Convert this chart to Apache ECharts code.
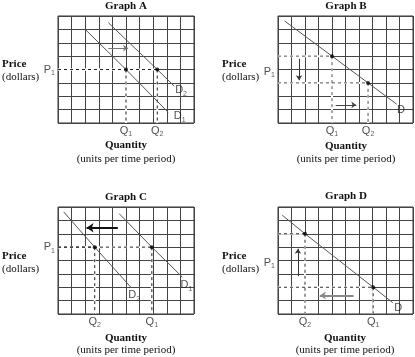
<!DOCTYPE html>
<html><head><meta charset="utf-8">
<script src="https://cdn.jsdelivr.net/npm/echarts@6/dist/echarts.min.js"></script>
<style>html,body{margin:0;padding:0;background:#fff}#c{width:415px;height:357px}</style>
</head><body><div id="c"></div>
<script>
// ---- data ----
const graphTitles = ['Graph A', 'Graph B', 'Graph C', 'Graph D'];
const xTicks = [0, 10];   // quantity axis range (grid units)
const yTicks = [0, 8];    // price axis range (grid units)

// Graph A
const demandA1 = [[2, 7], [5, 4], [8.1, 0.8]];
const demandA2 = [[3.7, 7.5], [7.3, 4], [8.55, 2.75]];
const pointsA = [[5, 4], [7.3, 4]];
const priceLabelA = 4;
const qLabelsA = [['Q', '1', 5], ['Q', '2', 7.3]];
const dLabelsA = [['D', '2', 9.05, 2.45], ['D', '1', 8.95, 0.5]];
const arrowsA = [[[3.7, 5.6], [5.15, 5.6]]];

// Graph B
const demandB = [[0.5, 7.62], [4, 5], [6.67, 3], [8.8, 1.4]];
const pointsB = [[4, 5], [6.67, 3]];
const priceLabelB = 3.85;
const qLabelsB = [['Q', '1', 4], ['Q', '2', 6.67]];
const dLabelsB = [['D', '', 9.1, 0.96]];
const arrowsB = [[[1.56, 4.8], [1.56, 3.2]], [[4.27, 1.35], [5.8, 1.35]]];

// Graph C
const demandC1 = [[4.5, 7.5], [6.9, 5], [9.15, 2.75]];
const demandC2 = [[0.42, 7.63], [2.7, 5], [5.4, 1.95]];
const pointsC = [[2.7, 5], [6.9, 5]];
const priceLabelC = 5;
const qLabelsC = [['Q', '2', 2.7], ['Q', '1', 6.9]];
const dLabelsC = [['D', '1', 9.45, 2.15], ['D', '2', 5.6, 1.4]];
const arrowsC = [[[4.4, 6.45], [2.1, 6.45]]];

// Graph D
const demandD = [[0.32, 7.38], [2, 6], [7.05, 2], [8.5, 0.85]];
const pointsD = [[2, 6], [7.05, 2]];
const priceLabelD = 3.85;
const qLabelsD = [['Q', '2', 2], ['Q', '1', 7.05]];
const dLabelsD = [['D', '', 8.9, 0.45]];
const arrowsD = [[[1.48, 2.83], [1.48, 4.88]], [[5.6, 1.38], [3.1, 1.38]]];

// ---- styles / layout ----
const SANS = 'Liberation Sans, Arial, sans-serif';
const SERIF = 'Liberation Serif, Times New Roman, serif';
const gridBoxes = [
  {left: 58, top: 16, width: 136, height: 107},
  {left: 278, top: 16, width: 135, height: 107},
  {left: 58, top: 207, width: 136, height: 107},
  {left: 278, top: 207, width: 135, height: 107}
];
const richSub = {
  b: {fontSize: 11, fontFamily: SANS, color: '#222', lineHeight: 14},
  s: {fontSize: 7, fontFamily: SANS, color: '#333', lineHeight: 8, verticalAlign: 'bottom'}
};
function sub(m, s) { return s ? '{b|' + m + '}{s|' + s + '}' : '{b|' + m + '}'; }

const graphs = [
  {demand: [demandA1, demandA2], points: pointsA, price: priceLabelA, q: qLabelsA, d: dLabelsA,
   arrows: arrowsA, arrowStyle: [{color: '#777', width: 1, size: 5}], dash: '#222'},
  {demand: [demandB], points: pointsB, price: priceLabelB, q: qLabelsB, d: dLabelsB,
   arrows: arrowsB, arrowStyle: [{color: '#333', width: 1, size: 5}, {color: '#444', width: 1, size: 5}], dash: '#555'},
  {demand: [demandC1, demandC2], points: pointsC, price: priceLabelC, q: qLabelsC, d: dLabelsC,
   arrows: arrowsC, arrowStyle: [{color: '#111', width: 2, size: 7}], dash: '#222'},
  {demand: [demandD], points: pointsD, price: priceLabelD, q: qLabelsD, d: dLabelsD,
   arrows: arrowsD, arrowStyle: [{color: '#333', width: 1, size: 5}, {color: '#888', width: 2, size: 6}], dash: '#333'}
];

const series = [];
graphs.forEach((g, i) => {
  const ax = {xAxisIndex: i, yAxisIndex: i};
  // guide segments from each point to the axes
  const segs = [];
  g.points.forEach(p => {
    segs.push([[0, p[1]], [p[0], p[1]]]);
    segs.push([[p[0], p[1]], [p[0], 0]]);
  });
  segs.forEach(s => {
    series.push(Object.assign({type: 'line', data: s, symbol: 'none', silent: true, z: 2,
      lineStyle: {color: '#fff', width: 2}}, ax));
    series.push(Object.assign({type: 'line', data: s, symbol: 'none', silent: true, z: 3,
      lineStyle: {color: g.dash, width: 1, type: [3, 3]}}, ax));
  });
  // demand curves
  g.demand.forEach((d, k) => {
    const s = Object.assign({type: 'line', data: d, symbol: 'none', silent: true, z: 4,
      lineStyle: {color: '#555', width: 1}}, ax);
    if (k === 0) {
      s.markLine = {
        silent: true, symbol: ['none', 'arrow'], label: {show: false},
        data: g.arrows.map((a, j) => {
          const st = g.arrowStyle[j];
          return [{coord: a[0], symbolSize: 0, lineStyle: {color: st.color, width: st.width, type: 'solid'}},
                  {coord: a[1], symbolSize: st.size}];
        })
      };
    }
    series.push(s);
  });
  // equilibrium points
  series.push(Object.assign({type: 'scatter', data: g.points, symbolSize: 4, silent: true, z: 5,
    itemStyle: {color: '#000'}}, ax));
  // labels
  const labs = [];
  labs.push({value: [0, g.price], label: {position: 'left', distance: 3, formatter: sub('P', '1')}});
  g.q.forEach(q => labs.push({value: [q[2], 0], label: {position: 'bottom', distance: 1, formatter: sub(q[0], q[1])}}));
  g.d.forEach(d => labs.push({value: [d[2], d[3]], label: {position: 'inside', formatter: sub(d[0], d[1])}}));
  series.push(Object.assign({type: 'scatter', data: labs, symbolSize: 0, silent: true, clip: false, z: 6,
    label: {show: true, rich: richSub}}, ax));
});

const xAxis = gridBoxes.map((b, i) => ({gridIndex: i, type: 'value', min: xTicks[0], max: xTicks[1], interval: 1,
  axisLine: {show: false}, axisTick: {show: false}, axisLabel: {show: false},
  splitLine: {show: true, lineStyle: {color: '#444', width: 1}}}));
const yAxis = gridBoxes.map((b, i) => ({gridIndex: i, type: 'value', min: yTicks[0], max: yTicks[1], interval: 1,
  axisLine: {show: false}, axisTick: {show: false}, axisLabel: {show: false},
  splitLine: {show: true, lineStyle: {color: '#444', width: 1}}}));

const texts = [];
function txt(x, y, t, font, align) {
  texts.push({type: 'text', x: x, y: y, silent: true, z: 10,
    style: {text: t, font: font, fill: '#111', align: align || 'center', verticalAlign: 'middle'}});
}
const titlePos = [[126, 6], [346, 6], [126, 197], [346, 196.5]];
titlePos.forEach((p, i) => txt(p[0], p[1], graphTitles[i], 'bold 11px ' + SERIF));
const pricePos = [[2, 64.5, 77], [222, 64.5, 77], [2, 256.3, 269], [222, 256.3, 269]];
pricePos.forEach(p => { txt(p[0], p[1], 'Price', 'bold 11px ' + SERIF, 'left'); txt(p[0], p[2], '(dollars)', '11px ' + SERIF, 'left'); });
const qtyPos = [[126, 145.5, 158.7], [346, 146.3, 159], [126, 338, 350.3], [345, 338, 350]];
qtyPos.forEach(p => { txt(p[0], p[1], 'Quantity', 'bold 11px ' + SERIF); txt(p[0], p[2], '(units per time period)', '11px ' + SERIF); });

const chart = echarts.init(document.getElementById('c'), null, {renderer: 'canvas'});
chart.setOption({
  animation: false,
  backgroundColor: '#fff',
  grid: gridBoxes.map(b => Object.assign({show: true, borderColor: '#333', borderWidth: 1, backgroundColor: 'transparent'}, b)),
  xAxis: xAxis,
  yAxis: yAxis,
  series: series,
  graphic: texts
});
</script></body></html>
